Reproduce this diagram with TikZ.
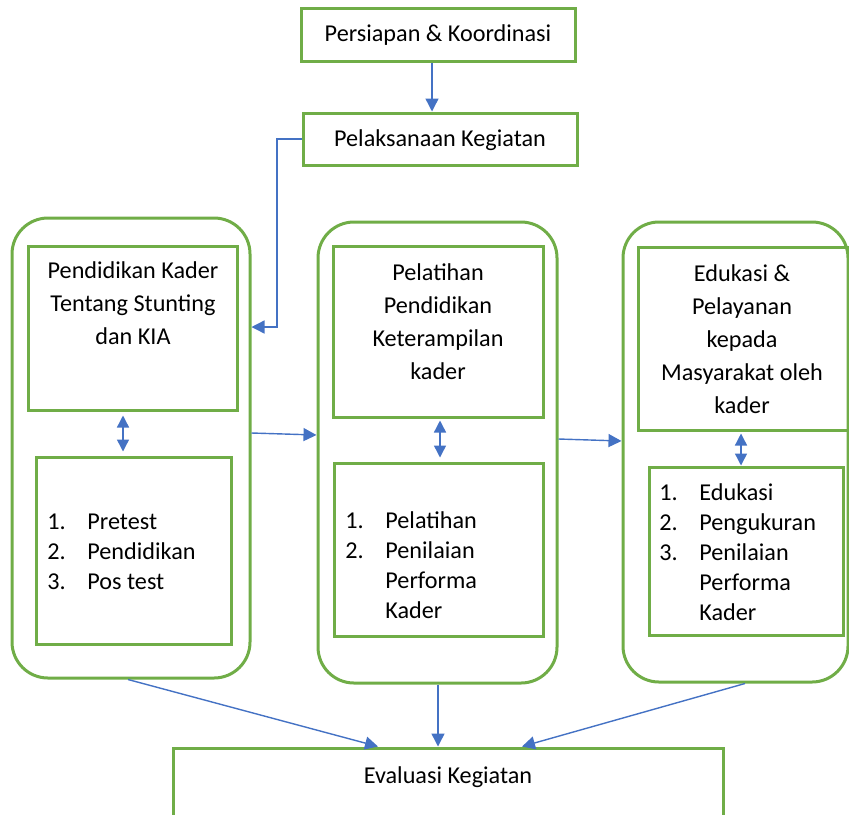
\documentclass[tikz,border=0pt]{standalone}
\usepackage{fontspec}
\setmainfont{Carlito}
\usetikzlibrary{arrows.meta,fit,calc}
\definecolor{ogreen}{HTML}{70AD47}
\definecolor{oblue}{HTML}{4472C4}
\newcommand{\itm}[1]{\makebox[20pt][l]{#1}}
\begin{document}
\begin{tikzpicture}[x=0.5pt,y=-0.5pt,
 box/.style={draw=ogreen,line width=1.5pt,inner sep=0pt},
 outer/.style={box,rounded corners=18pt},
 arr/.style={draw=oblue,line width=0.7pt,-{Triangle[length=6.5pt,width=6.5pt]}},
 darr/.style={draw=oblue,line width=0.7pt,{Triangle[length=6pt,width=6pt]}-{Triangle[length=6pt,width=6pt]}},
 txt/.style={font=\fontsize{12.1}{16.5}\selectfont,align=center,inner sep=0pt},
 lst/.style={font=\fontsize{12.1}{15}\selectfont,align=left,inner sep=0pt,anchor=west}]
\useasboundingbox (0,0) rectangle (849,814);
% top boxes
\node[box,fit={(301,8) (575,61)}] (p1) {};
\node[txt] (t1) at (438,35) {Persiapan \& Koordinasi};
\node[box,fit={(303,113) (577,165)}] (p2) {};
\node[txt] (t2) at (440,140) {Pelaksanaan Kegiatan};
% outer groups
\node[outer,fit={(12,218) (250,678)}] (lo) {};
\node[outer,fit={(318,222) (557,683)}] (mo) {};
\node[outer,fit={(623,222) (848,682)}] (ro) {};
% inner boxes left
\node[box,fit={(28,246) (237,410)}] (lt) {};
\node[txt] (tlt) at (133,303) {Pendidikan Kader\\Tentang Stunting\\dan KIA};
\node[box,fit={(36,457) (231,644)}] (lb) {};
\node[lst] (tlb) at (47,552) {\itm{1.}Pretest\\\itm{2.}Pendidikan\\\itm{3.}Pos test};
% inner boxes middle
\node[box,fit={(333,246) (543,417)}] (mt) {};
\node[txt] (tmt) at (438,322) {Pelatihan\\Pendidikan\\Keterampilan\\kader};
\node[box,fit={(334,463) (543,636)}] (mb) {};
\node[lst] (tmb) at (345,565) {\itm{1.}Pelatihan\\\itm{2.}Penilaian\\\itm{}Performa\\\itm{}Kader};
% inner boxes right
\node[box,fit={(638,247) (848,430)}] (rt) {};
\node[txt] (trt) at (742,339) {Edukasi \&\\Pelayanan\\kepada\\Masyarakat oleh\\kader};
\node[box,fit={(649,467) (843,635)}] (rb) {};
\node[lst] (trb) at (659,552) {\itm{1.}Edukasi\\\itm{2.}Pengukuran\\\itm{3.}Penilaian\\\itm{}Performa\\\itm{}Kader};
% evaluation box
\node[box,fit={(173,748) (723,840)}] (ev) {};
\node[txt] (tev) at (448,777) {Evaluasi Kegiatan};
% connectors
\draw[arr] (432,0 |- p1.south) -- (432,0 |- p2.north);
\coordinate (bend) at (277,327);
\draw[arr] (p2.west) -| (bend) -- (bend -| lo.east);
\draw[arr] (lo.east |- 0,433) -- (mo.west |- 0,435);
\draw[arr] (mo.east |- 0,439) -- (ro.west |- 0,441);
\draw[darr,shorten <=2pt,shorten >=2pt] (123,0 |- lt.south) -- (123,0 |- lb.north);
\draw[darr,shorten <=1pt,shorten >=2pt] (440,0 |- mt.south) -- (440,0 |- mb.north);
\draw[darr,shorten <=1pt,shorten >=0pt] (741,0 |- rt.south) -- (741,0 |- rb.north);
\draw[arr] (128,0 |- lo.south) -- (378,0 |- ev.north);
\draw[arr] (438,0 |- mo.south) -- (438,0 |- ev.north);
\draw[arr] (745,0 |- ro.south) -- (522,0 |- ev.north);
\end{tikzpicture}
\end{document}
